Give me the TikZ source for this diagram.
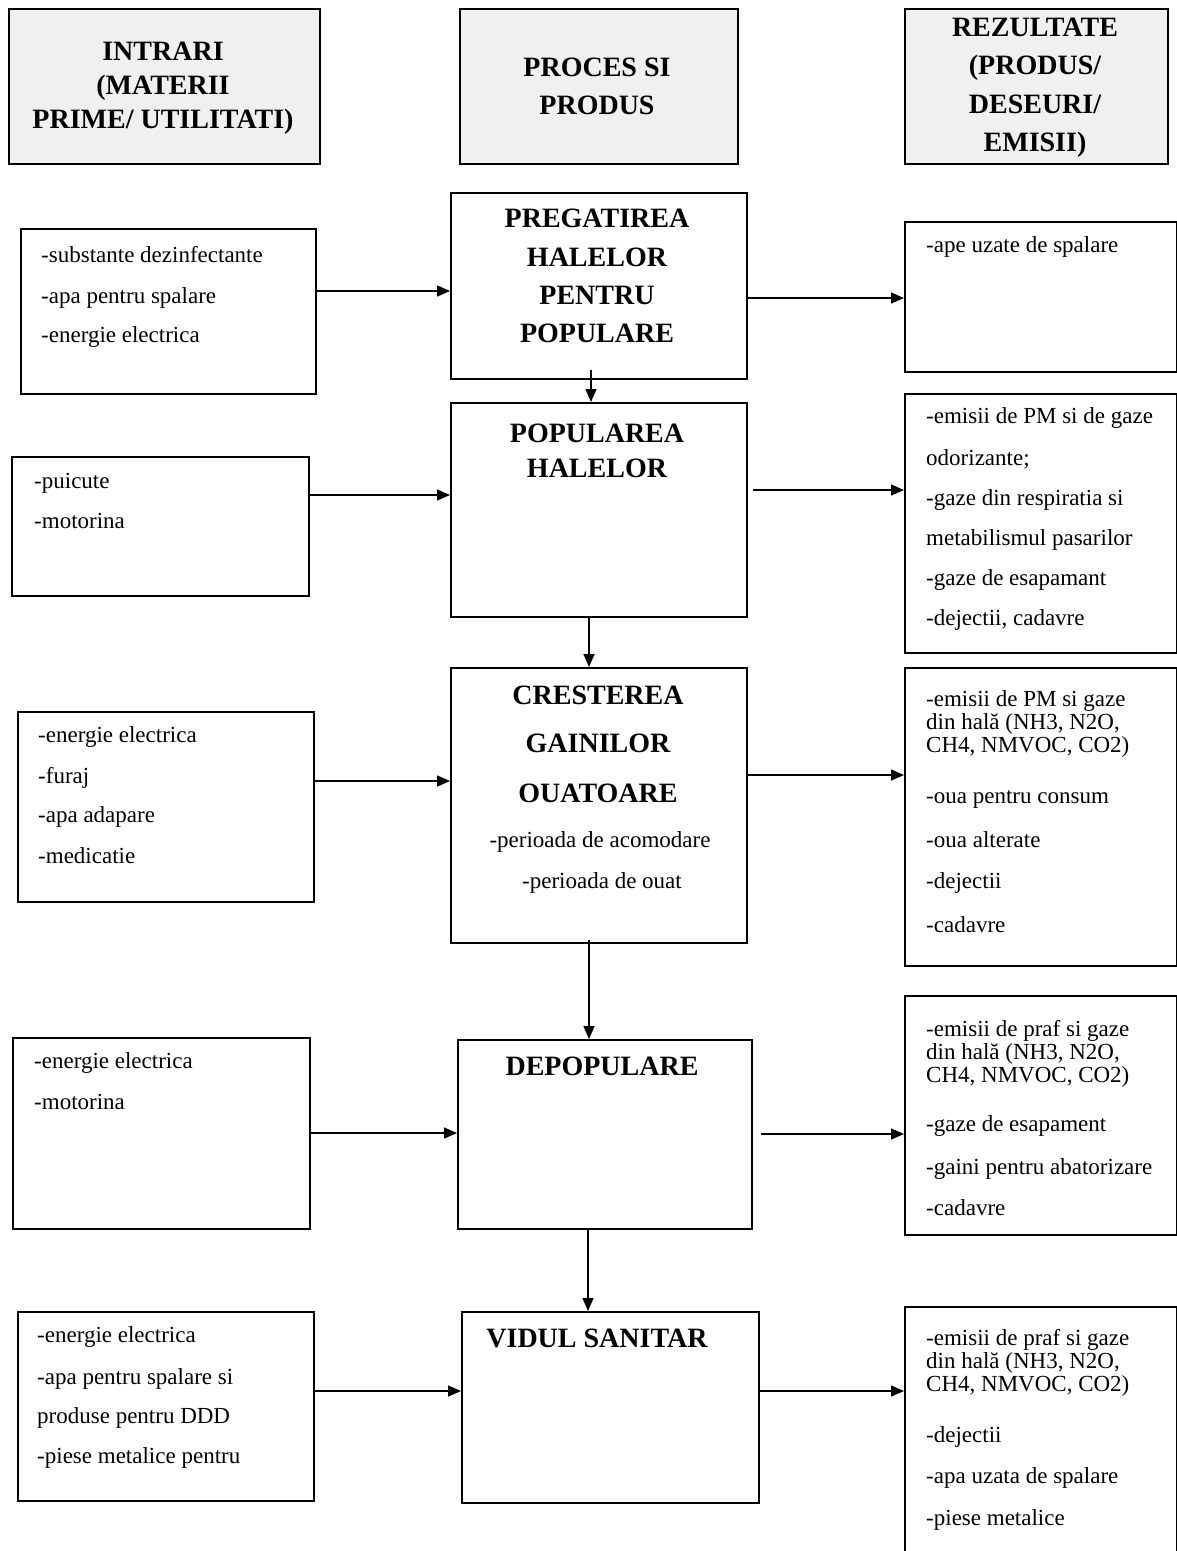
\documentclass[tikz,border=0pt]{standalone}
\usepackage{fontspec}
\setmainfont{Liberation Serif}
\usetikzlibrary{arrows.meta}
\begin{document}
\begin{tikzpicture}[x=1pt,y=-1pt,
  box/.style={draw, line width=1.8pt, inner sep=0, anchor=north west},
  hdr/.style={box, fill=black!6},
  ln/.style={inner sep=0, anchor=west, font=\fontsize{23}{26}\selectfont, text height=16pt, text depth=5pt},
  cln/.style={ln, anchor=center},
  ttl/.style={inner sep=0, anchor=center, font=\bfseries\fontsize{28}{32}\selectfont, text height=19pt, text depth=0pt},
  arr/.style={line width=1.4pt, -{Triangle[length=13pt,width=11pt]}}
]
\useasboundingbox (0,0) rectangle (1176,1551);
\newcommand\lns[3]{\foreach \yy/\tx [count=\i] in {#3} \node[ln] (#1-\i) at (#2,\yy) {\tx};}
\newcommand\tls[3]{\foreach \yy/\tx [count=\i] in {#3} \node[ttl] (#1-\i) at (#2,\yy) {\tx};}

% headers
\node[hdr, minimum width=311pt, minimum height=155pt] (h1) at (8,8) {};
\node[hdr, minimum width=278pt, minimum height=155pt] (h2) at (459,8) {};
\node[hdr, minimum width=263pt, minimum height=155pt] (h3) at (904,8) {};
\tls{th1}{163}{51/INTRARI, 85/(MATERII, 119/{PRIME/ UTILITATI)}}
\tls{th2}{597}{67/PROCES SI, 105/PRODUS}
\tls{th3}{1035}{27/REZULTATE, 65/{(PRODUS/}, 104/{DESEURI/}, 142/EMISII)}

% row 1
\node[box, minimum width=295pt, minimum height=165pt] (i1) at (20,228) {};
\node[box, minimum width=296pt, minimum height=186pt] (p1) at (450,192) {};
\node[box, minimum width=272pt, minimum height=150pt] (o1) at (904,221) {};
\lns{ti1}{41}{257/-substante dezinfectante, 298/-apa pentru spalare, 337/-energie electrica}
\tls{tp1}{597}{218/PREGATIREA, 257/HALELOR, 295/PENTRU, 333/POPULARE}
\lns{to1}{926}{247/-ape uzate de spalare}

% row 2
\node[box, minimum width=297pt, minimum height=139pt] (i2) at (11,456) {};
\node[box, minimum width=296pt, minimum height=214pt] (p2) at (450,402) {};
\node[box, minimum width=272pt, minimum height=259pt] (o2) at (904,393) {};
\lns{ti2}{34}{483/-puicute, 523/-motorina}
\tls{tp2}{597}{433/POPULAREA, 468/HALELOR}
\lns{to2}{926}{418/-emisii de PM si de gaze, 460/odorizante;, 500/-gaze din respiratia si, 540/metabilismul pasarilor, 580/-gaze de esapamant, 620/{-dejectii, cadavre}}

% row 3
\node[box, minimum width=296pt, minimum height=190pt] (i3) at (17,711) {};
\node[box, minimum width=296pt, minimum height=275pt] (p3) at (450,667) {};
\node[box, minimum width=272pt, minimum height=298pt] (o3) at (904,667) {};
\lns{ti3}{38}{737/-energie electrica, 778/-furaj, 817/-apa adapare, 858/-medicatie}
\tls{tp3}{598}{695/CRESTEREA, 743/GAINILOR, 793/OUATOARE}
\node[cln] (tp3-4) at (600,842) {-perioada de acomodare};
\node[cln] (tp3-5) at (602,883) {-perioada de ouat};
\lns{to3}{926}{701/-emisii de PM si gaze, 724/{din hală (NH3, N2O,}, 747/{CH4, NMVOC, CO2)}, 798/-oua pentru consum, 842/-oua alterate, 883/-dejectii, 927/-cadavre}

% row 4
\node[box, minimum width=297pt, minimum height=191pt] (i4) at (12,1037) {};
\node[box, minimum width=294pt, minimum height=189pt] (p4) at (457,1039) {};
\node[box, minimum width=272pt, minimum height=239pt] (o4) at (904,995) {};
\lns{ti4}{34}{1063/-energie electrica, 1104/-motorina}
\tls{tp4}{602}{1066/DEPOPULARE}
\lns{to4}{926}{1031/-emisii de praf si gaze, 1054/{din hală (NH3, N2O,}, 1077/{CH4, NMVOC, CO2)}, 1126/-gaze de esapament, 1169/-gaini pentru abatorizare, 1210/-cadavre}

% row 5
\node[box, minimum width=296pt, minimum height=189pt] (i5) at (17,1311) {};
\node[box, minimum width=297pt, minimum height=191pt] (p5) at (461,1311) {};
\node[box, minimum width=272pt, minimum height=260pt] (o5) at (904,1306) {};
\lns{ti5}{37}{1337/-energie electrica, 1379/-apa pentru spalare si, 1418/produse pentru DDD, 1458/-piese metalice pentru}
\tls{tp5}{597}{1338/VIDUL SANITAR}
\lns{to5}{926}{1340/-emisii de praf si gaze, 1363/{din hală (NH3, N2O,}, 1386/{CH4, NMVOC, CO2)}, 1437/-dejectii, 1478/-apa uzata de spalare, 1520/-piese metalice}

% connectors: inputs -> process
\draw[arr] (i1.east |- 0,291) -- (p1.west |- 0,291);
\draw[arr] (i2.east |- 0,495) -- (p2.west |- 0,495);
\draw[arr] (i3.east |- 0,781) -- (p3.west |- 0,781);
\draw[arr] (i4.east |- 0,1133) -- (p4.west |- 0,1133);
\draw[arr] (i5.east |- 0,1391) -- (p5.west |- 0,1391);
% process -> outputs
\draw[arr] (p1.east |- 0,298) -- (o1.west |- 0,298);
\draw[arr] ([xshift=5pt]p2.east |- 0,490) -- (o2.west |- 0,490);
\draw[arr] (p3.east |- 0,775) -- (o3.west |- 0,775);
\draw[arr] ([xshift=8pt]p4.east |- 0,1134) -- (o4.west |- 0,1134);
\draw[arr] (p5.east |- 0,1391) -- (o5.west |- 0,1391);
% process chain
\draw[arr] ([yshift=10pt]p1.south -| 591,0) -- (p2.north -| 591,0);
\draw[arr] (p2.south -| 589,0) -- (p3.north -| 589,0);
\draw[arr] ([yshift=4pt]p3.south -| 589,0) -- (p4.north -| 589,0);
\draw[arr] (p4.south -| 588,0) -- (p5.north -| 588,0);
\end{tikzpicture}
\end{document}
